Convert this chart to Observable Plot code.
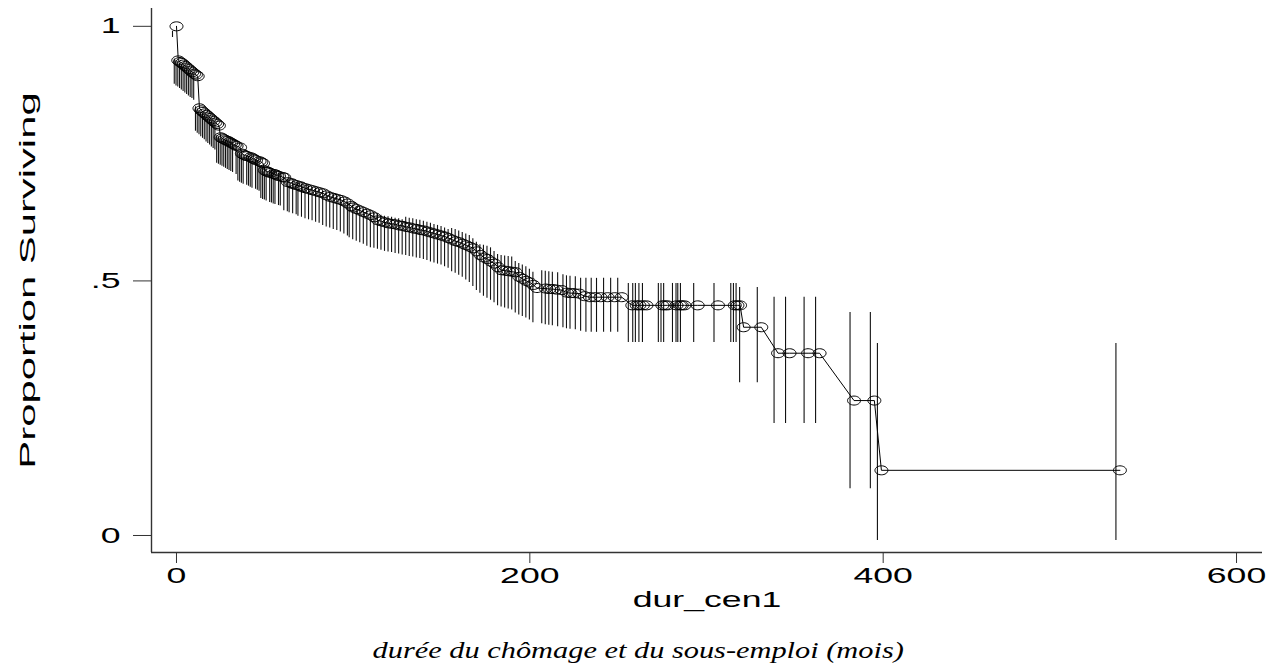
<!DOCTYPE html>
<html><head><meta charset="utf-8">
<script src="https://cdn.jsdelivr.net/npm/d3@7"></script>
<script src="https://cdn.jsdelivr.net/npm/@observablehq/plot@0.6"></script>
<style>
body{margin:0;background:#fff;width:1276px;height:665px;overflow:hidden;position:relative;}
#chart svg{display:block;}
#caption{position:absolute;left:0;top:638px;width:1276px;text-align:center;font-family:"Liberation Serif","Times New Roman",serif;font-style:italic;font-size:23px;line-height:26px;color:#000;}
#caption span{display:inline-block;transform:scaleX(1.32);}
</style></head><body>
<div id="chart"></div>
<div id="caption"><span id="captext"></span></div>
<script>
const times = [
0,
1,2,3,4,5,6,7,8,9,10,11,12,
13,14,15,16,17,18,19,20,21,22,23,24,
25,26,27,28,29,30,31,32,33,34,36,
37,38,39,40,42,43,44,45,47,48,49,
50,51,52,53,55,56,57,58,60,61,
63,65,66,68,70,71,73,75,77,79,81,83,
85,87,89,91,93,95,97,99,100,102,104,106,108,110,112,
114,116,118,120,122,124,126,128,130,132,134,136,138,140,142,144,146,148,150,152,154,156,158,160,162,164,166,168,170,172,174,
176,178,180,182,184,186,188,190,192,194,196,198,200,202,204,
209,211,213,215,218,
221,223,225,228,
231,234,237,240,244,248,252,
258,260.5,262,264,266,275,276.5,278,283,285,286,287.5,295,306.5,316,317.5,319,
321,331,
340.5,347,357.5,364,
383.5,395,
399,534
];
const surv = [
1.000,
.933,.930,.928,.925,.922,.919,.916,.913,.910,.907,.905,.902,
.839,.835,.832,.829,.826,.823,.820,.817,.814,.811,.808,.805,
.782,.780,.778,.776,.775,.773,.771,.769,.767,.765,.762,
.750,.748,.746,.745,.743,.741,.739,.737,.735,.733,.731,
.717,.715,.714,.712,.710,.709,.707,.706,.704,.703,
.694,.692,.690,.688,.686,.684,.682,.680,.678,.676,.674,.672,
.668,.665,.663,.661,.659,.656,.652,.647,.644,.641,.638,.635,.632,.629,.625,
.619,.617,.615,.613,.612,.611,.609,.608,.606,.605,.603,.602,.600,.599,.597,.595,.593,.591,.589,.587,.584,.581,.578,.576,.573,.570,.567,.564,.558,.551,.546,
.543,.538,.534,.527,.521,.520,.519,.518,.517,.508,.504,.500,.497,.492,.486,
.485,.484,.484,.483,.482,
.477,.476,.476,.475,
.470,.468,.468,.468,.468,.468,.468,
.452,.452,.452,.452,.452,.452,.452,.452,.452,.452,.452,.452,.452,.452,.452,.452,.452,
.409,.409,
.358,.358,.358,.358,
.265,.265,
.128,.128
];
const ciLow = [
.978,
.886,.883,.881,.878,.875,.872,.869,.866,.863,.860,.858,.855,
.794,.790,.787,.783,.780,.777,.773,.770,.767,.763,.760,.757,
.731,.729,.727,.725,.723,.721,.719,.717,.715,.713,.709,
.696,.694,.692,.690,.688,.686,.684,.682,.680,.678,.676,
.662,.660,.659,.657,.654,.653,.651,.650,.648,.647,
.638,.636,.634,.632,.630,.627,.625,.622,.620,.618,.615,.613,
.609,.606,.604,.601,.599,.596,.592,.588,.585,.581,.578,.575,.572,.568,.565,
.564,.562,.560,.558,.557,.556,.554,.553,.551,.550,.548,.547,.545,.544,.542,.540,.537,.535,.533,.531,.528,.525,.518,.515,.511,.507,.502,.497,.489,.481,.476,
.470,.466,.462,.457,.451,.449,.447,.445,.443,.437,.433,.430,.427,.423,.418,
.416,.414,.413,.412,.410,
.408,.406,.405,.404,
.401,.399,.399,.399,.399,.399,.399,
.379,.379,.379,.379,.379,.379,.379,.379,.379,.379,.379,.379,.379,.379,.379,.379,.379,
.300,.300,
.220,.220,.220,.220,
.092,.092,
-.010,-.010
];
const ciHigh = [
.990,
.936,.933,.931,.928,.925,.922,.919,.916,.913,.910,.908,.905,
.842,.838,.835,.832,.829,.826,.823,.820,.817,.814,.811,.808,
.785,.783,.781,.779,.778,.776,.774,.772,.770,.768,.765,
.753,.751,.749,.748,.746,.744,.742,.740,.738,.736,.734,
.725,.723,.722,.720,.718,.717,.715,.714,.712,.711,
.702,.700,.698,.696,.694,.692,.690,.688,.686,.684,.682,.680,
.676,.673,.671,.669,.667,.664,.660,.655,.652,.649,.646,.643,.640,.637,.633,
.633,.631,.629,.627,.626,.625,.623,.622,.620,.625,.623,.622,.620,.619,.617,.615,.613,.611,.609,.607,.604,.601,.603,.601,.598,.595,.592,.589,.583,.576,.571,
.570,.568,.565,.558,.552,.550,.549,.548,.547,.538,.534,.531,.528,.523,.517,
.520,.519,.518,.517,.516,
.512,.510,.509,.508,
.505,.505,.505,.505,.505,.505,.505,
.495,.495,.495,.495,.495,.495,.495,.495,.495,.495,.495,.495,.495,.495,.495,.495,.495,
.487,.487,
.468,.468,.468,.468,
.438,.438,
.377,.377
];
const xTicks = [0, 200, 400, 600];
const yTicks = [0, 0.5, 1];
const yTickLabels = ["0", ".5", "1"];
const xDomain = [-14.15, 614.7];
const yDomain = [-0.0334, 1.035];
const xLabel = "dur_cen1";
const yLabel = "Proportion Surviving";
const captionText = "durée du chômage et du sous-emploi (mois)";

const data = times.map((t, i) => ({t, s: surv[i], lo: ciLow[i], hi: ciHigh[i]}));

// Stata-like horizontally stretched circle marker
const ellipse = {
  draw(ctx, size) {
    const r = Math.sqrt(size / Math.PI), rx = r * 1.44, ry = r, k = 0.5523;
    ctx.moveTo(rx, 0);
    ctx.bezierCurveTo(rx, k * ry, k * rx, ry, 0, ry);
    ctx.bezierCurveTo(-k * rx, ry, -rx, k * ry, -rx, 0);
    ctx.bezierCurveTo(-rx, -k * ry, -k * rx, -ry, 0, -ry);
    ctx.bezierCurveTo(k * rx, -ry, rx, -k * ry, rx, 0);
    ctx.closePath();
  }
};

const chart = Plot.plot({
  width: 1276, height: 625,
  marginLeft: 151, marginRight: 14, marginTop: 8, marginBottom: 73,
  x: {domain: xDomain},
  y: {domain: yDomain},
  style: {fontFamily: "'Liberation Sans', Arial, sans-serif", fontSize: "22px", color: "#000", background: "#fff"},
  marks: [
    Plot.ruleX(data, {x: "t", y1: "lo", y2: "hi", dx: -4, stroke: "#111", strokeWidth: 1.1}),
    Plot.line(data, {x: "t", y: "s", stroke: "#000", strokeWidth: 1}),
    Plot.dot(data, {x: "t", y: "s", r: 4.5, symbol: ellipse, stroke: "#000", strokeWidth: 1, fill: "none"}),
    Plot.ruleX([xDomain[0]], {stroke: "#333", strokeWidth: 1.4}),
    Plot.ruleY([yDomain[0]], {stroke: "#333", strokeWidth: 1.4}),
    Plot.axisX(xTicks, {tickSize: 11, tickPadding: 4, fontSize: 22, stroke: "#333", fill: "#000", label: null}),
    Plot.axisY(yTicks, {tickSize: 18, tickPadding: 13, fontSize: 22, stroke: "#333", fill: "#000", label: null,
      tickFormat: d => yTickLabels[yTicks.indexOf(d)]}),
    Plot.text([xLabel], {frameAnchor: "bottom", dy: 47, lineAnchor: "middle", textAnchor: "middle", fontSize: 22, fill: "#000"}),
    Plot.text([yLabel], {frameAnchor: "left", dx: -124, rotate: -90, lineAnchor: "middle", textAnchor: "middle", fontSize: 22, fill: "#000"})
  ]
});

// stretch glyphs horizontally like the reference rendering
d3.select(chart).selectAll("text").each(function() {
  const s = this.textContent === yLabel ? 1.9 : 1.62;
  const tr = this.getAttribute("transform") || "";
  this.setAttribute("transform", (tr + ` scale(${s},1)`).trim());
});

document.getElementById("chart").appendChild(chart);
document.getElementById("captext").textContent = captionText;
</script>
</body></html>
